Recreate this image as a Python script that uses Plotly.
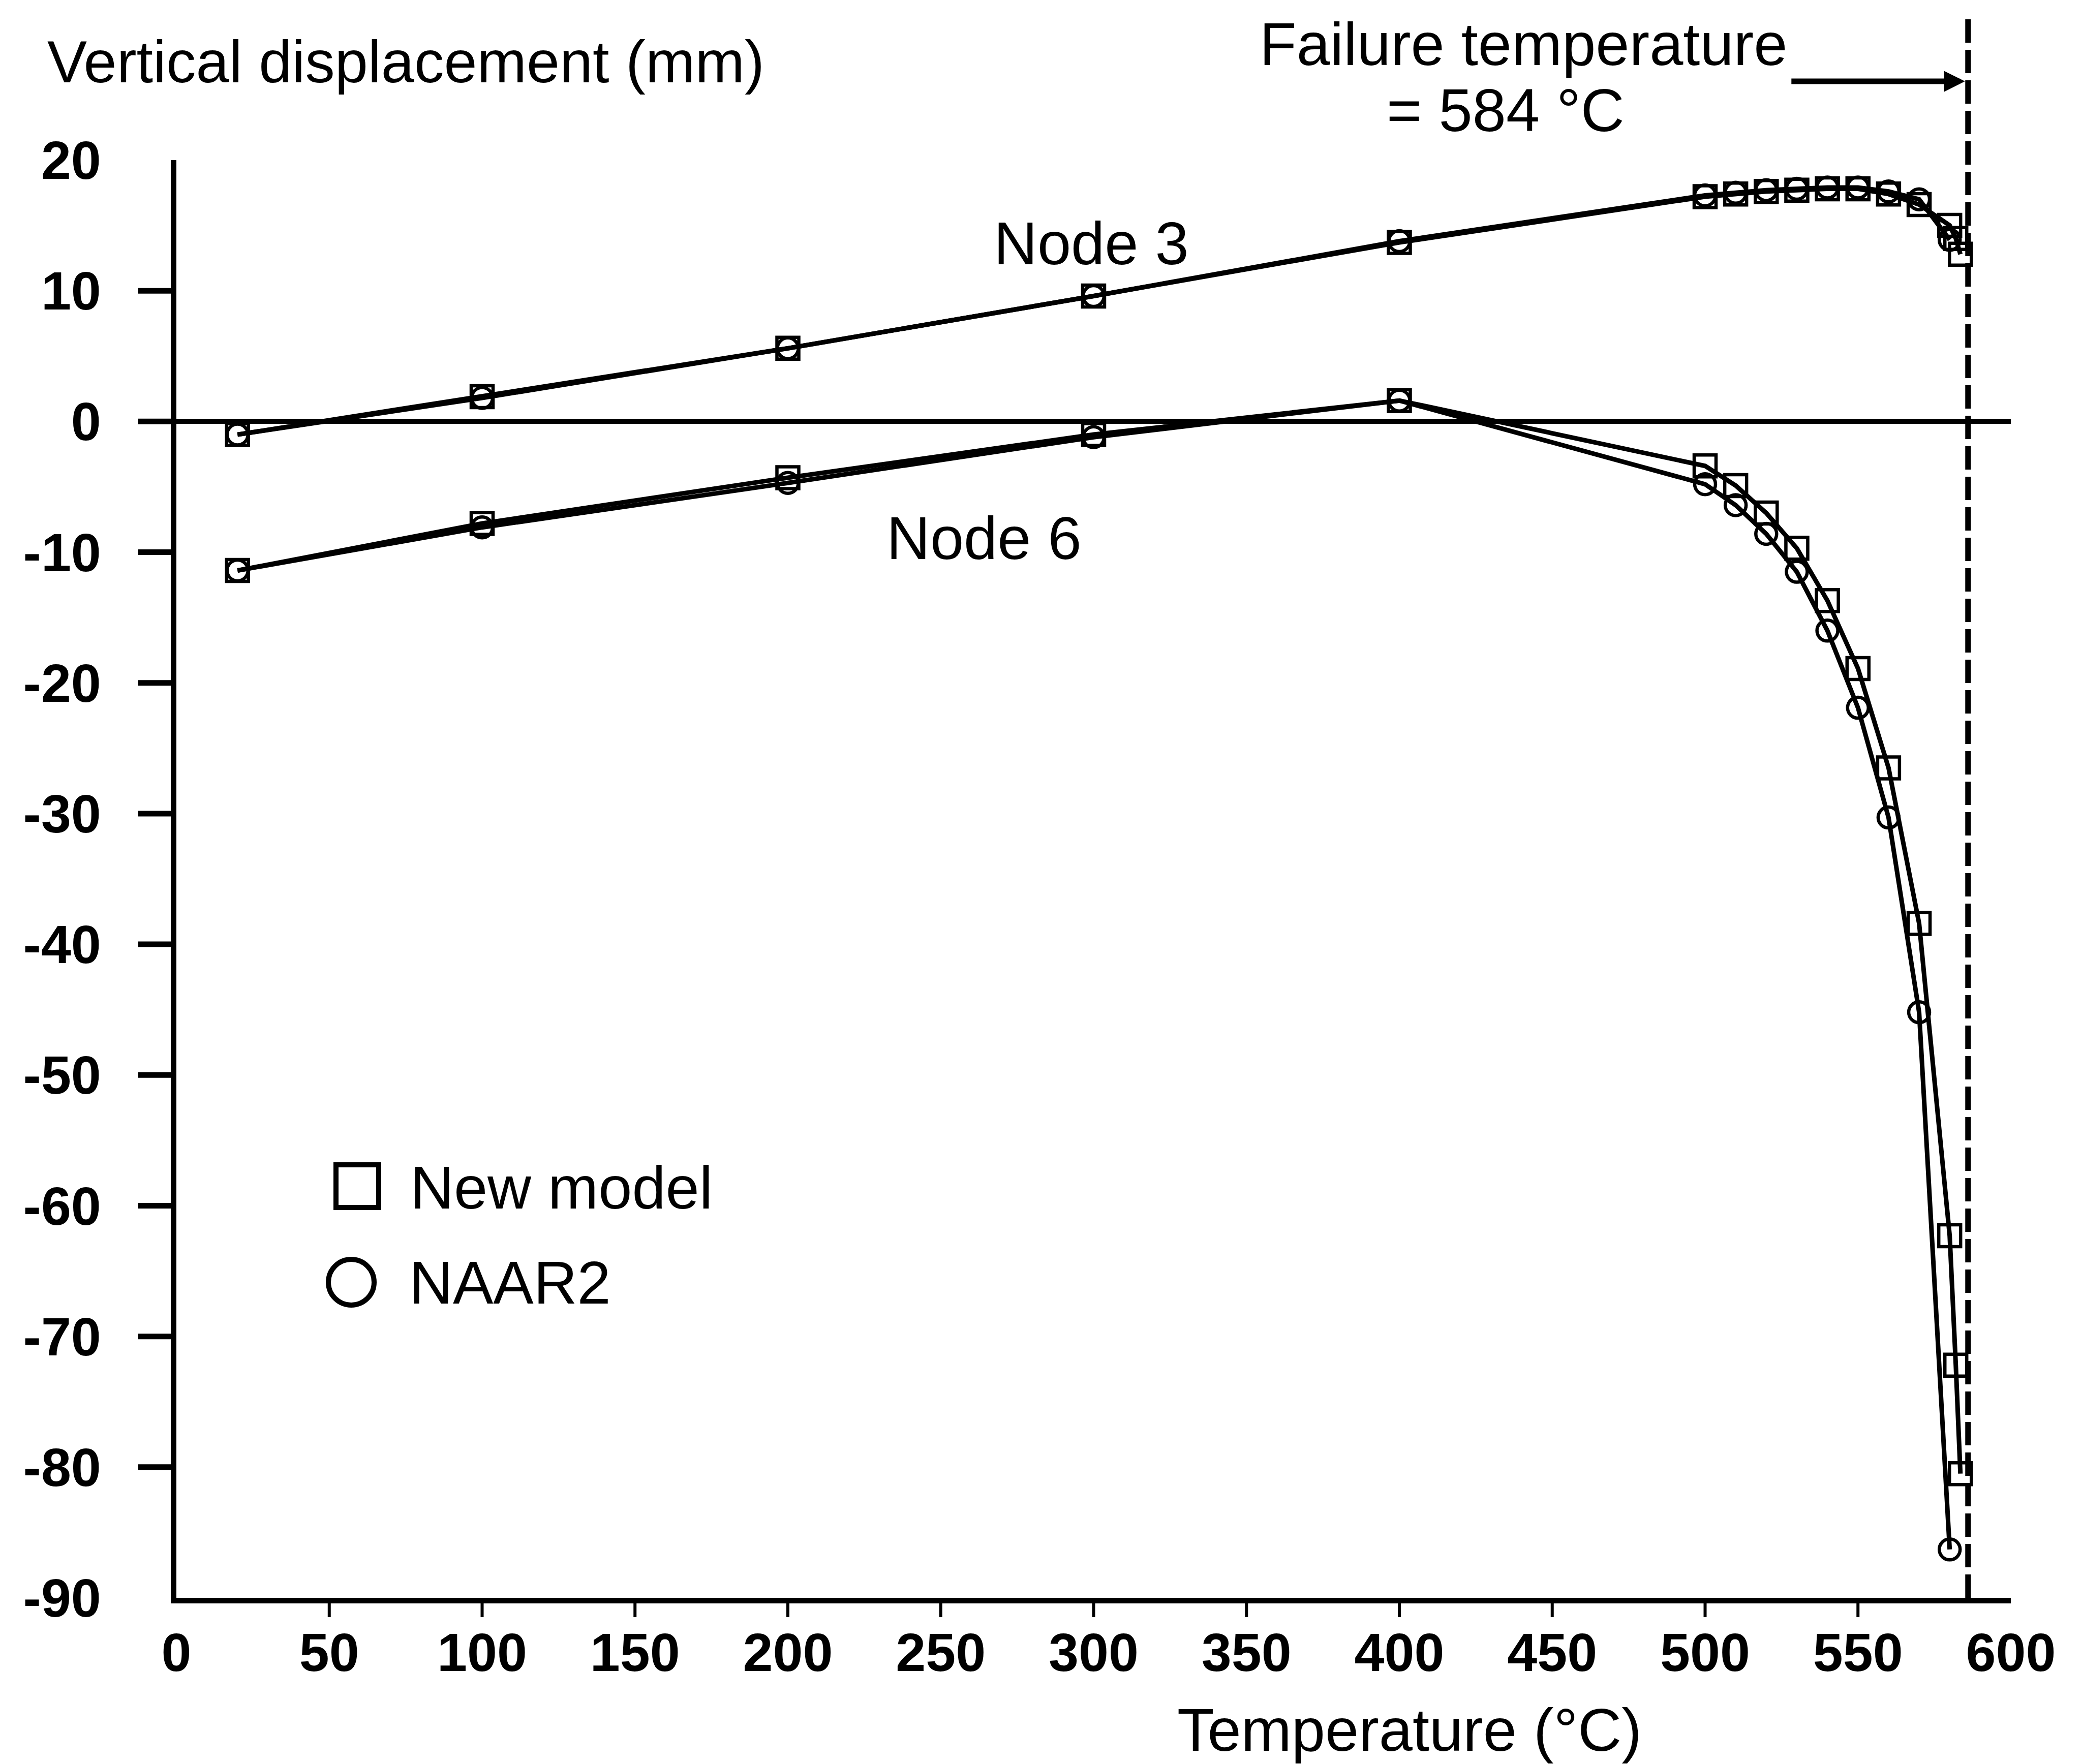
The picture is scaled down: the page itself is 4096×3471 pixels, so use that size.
import plotly.graph_objects as go

# ---------------- data ----------------
temp_new = [20, 100, 200, 300, 400, 500, 510, 520, 530, 540, 550, 560, 570, 580, 582, 583.5]
node3_new = [-1.0, 1.9, 5.6, 9.6, 13.7, 17.2, 17.4, 17.6, 17.7, 17.8, 17.8, 17.4, 16.6, 15.0, 14.0, 12.8]
node6_new = [-11.4, -7.8, -4.3, -1.0, 1.6, -3.4, -4.9, -7.0, -9.7, -13.7, -18.9, -26.5, -38.4, -62.3, -72.2, -80.5]

temp_naar = [20, 100, 200, 300, 400, 500, 510, 520, 530, 540, 550, 560, 570, 580]
node3_naar = [-1.0, 1.8, 5.6, 9.6, 13.8, 17.3, 17.5, 17.7, 17.8, 17.9, 17.9, 17.6, 17.0, 13.9]
node6_naar = [-11.4, -8.1, -4.7, -1.2, 1.6, -4.8, -6.4, -8.6, -11.5, -16.0, -21.9, -30.3, -45.2, -86.3]

x_ticks = [0, 50, 100, 150, 200, 250, 300, 350, 400, 450, 500, 550, 600]
y_ticks = [20, 10, 0, -10, -20, -30, -40, -50, -60, -70, -80, -90]
x_range = [0, 600]
y_range = [-90, 20]
failure_temp = 584
failure_line_x = 586

# ---------------- layout geometry (pixels) ----------------
W, H = 4096, 3471
L, R, T, B = 347, 140, 315, 327
PW, PH = W - L - R, H - T - B
FONT = "Liberation Sans, Arial, Helvetica, sans-serif"
BLACK = "#000000"


def xp(px):
    return (px - L) / PW


def yp(py):
    return (H - B - py) / PH


def x_data_to_paper(v):
    return (v - x_range[0]) / (x_range[1] - x_range[0])


def y_data_to_paper(v):
    return (v - y_range[0]) / (y_range[1] - y_range[0])


LINE_W = 9
MK_LINE = 6.5

fig = go.Figure()


def add_series(x, y, symbol, size, name):
    fig.add_trace(go.Scatter(
        x=x, y=y, mode="lines+markers", name=name, showlegend=False,
        line=dict(color=BLACK, width=LINE_W),
        marker=dict(symbol=symbol, size=size, color=BLACK,
                    line=dict(color=BLACK, width=MK_LINE)),
        cliponaxis=False,
    ))


add_series(temp_new, node3_new, "square-open", 43, "New model - Node 3")
add_series(temp_naar, node3_naar, "circle-open", 41, "NAAR2 - Node 3")
add_series(temp_new, node6_new, "square-open", 43, "New model - Node 6")
add_series(temp_naar, node6_naar, "circle-open", 41, "NAAR2 - Node 6")

shapes = []
# y-axis tick marks (outward), not at the ends of the axis
for v in y_ticks[1:-1]:
    shapes.append(dict(type="line", xref="paper", yref="paper",
                       x0=xp(L - 75), x1=xp(L - 3),
                       y0=y_data_to_paper(v), y1=y_data_to_paper(v),
                       line=dict(color=BLACK, width=11)))
# x-axis tick marks (outward), not at the ends
for v in x_ticks[1:-1]:
    shapes.append(dict(type="line", xref="paper", yref="paper",
                       x0=x_data_to_paper(v), x1=x_data_to_paper(v),
                       y0=yp(H - B + 3), y1=yp(H - B + 38),
                       line=dict(color=BLACK, width=6)))
# failure temperature dashed line
shapes.append(dict(type="line", xref="paper", yref="paper",
                   x0=x_data_to_paper(failure_line_x), x1=x_data_to_paper(failure_line_x),
                   y0=0, y1=yp(35),
                   line=dict(color=BLACK, width=11, dash="46px,14px")))
# legend symbols
sq_cx, sq_cy, sq_h = 703, 2334, 42
shapes.append(dict(type="rect", xref="paper", yref="paper",
                   x0=xp(sq_cx - sq_h), x1=xp(sq_cx + sq_h),
                   y0=yp(sq_cy + sq_h), y1=yp(sq_cy - sq_h),
                   line=dict(color=BLACK, width=10), fillcolor="rgba(0,0,0,0)"))
ci_cx, ci_cy, ci_r = 691, 2523, 45
shapes.append(dict(type="circle", xref="paper", yref="paper",
                   x0=xp(ci_cx - ci_r), x1=xp(ci_cx + ci_r),
                   y0=yp(ci_cy + ci_r), y1=yp(ci_cy - ci_r),
                   line=dict(color=BLACK, width=10), fillcolor="rgba(0,0,0,0)"))

TXT = 119


def ann(text, x, y, xanchor="center", size=TXT):
    return dict(text=text, xref="paper", yref="paper", x=x, y=y,
                xanchor=xanchor, yanchor="middle", showarrow=False,
                font=dict(family=FONT, size=size, color=BLACK))


annotations = [
    ann("Vertical displacement (mm)", xp(91), yp(121), "left", 117),
    ann("Failure temperature", xp(2997), yp(87)),
    ann(f"= {failure_temp} °C", xp(2962), yp(217)),
    ann("Node 3", xp(2147), yp(478)),
    ann("Node 6", xp(1936), yp(1058)),
    ann("Temperature (°C)", xp(2773), yp(3403)),
    ann("New model", xp(805), yp(2336), "left"),
    ann("NAAR2", xp(803), yp(2523), "left"),
    dict(text="", xref="paper", yref="paper",
         x=x_data_to_paper(failure_line_x) - 6 / PW, y=yp(160),
         ax=-343, ay=0, showarrow=True, arrowhead=2, arrowsize=0.75,
         arrowwidth=11, arrowcolor=BLACK),
]

TICKFONT = dict(family="Liberation Sans, Arial, sans-serif", size=106, color=BLACK,
                weight="bold")

fig.update_layout(
    width=W, height=H,
    margin=dict(l=L, r=R, t=T, b=B, pad=0),
    paper_bgcolor="white", plot_bgcolor="white",
    shapes=shapes, annotations=annotations,
    showlegend=False,
    xaxis=dict(range=x_range, tickvals=x_ticks, ticktext=[str(v) for v in x_ticks],
               ticks="", showgrid=False, zeroline=False,
               showline=True, linecolor=BLACK, linewidth=11,
               tickfont=TICKFONT,
               ticklabelstandoff=6, fixedrange=True),
    yaxis=dict(range=y_range, tickvals=y_ticks, ticktext=[str(v) for v in y_ticks],
               ticks="", showgrid=False,
               zeroline=True, zerolinecolor=BLACK, zerolinewidth=10,
               showline=True, linecolor=BLACK, linewidth=11,
               tickfont=TICKFONT,
               ticklabelstandoff=116, fixedrange=True),
)

fig.write_html("out.html")
